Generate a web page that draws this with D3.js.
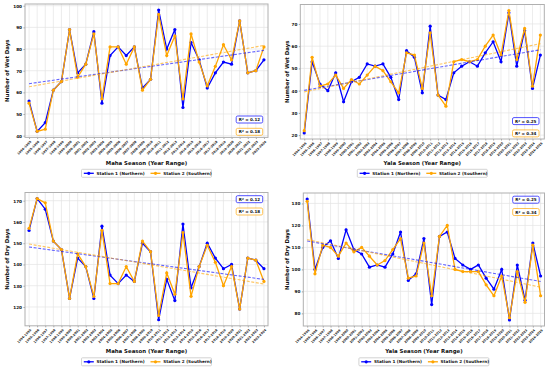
<!DOCTYPE html>
<html>
<head>
<meta charset="utf-8">
<script src="https://cdn.jsdelivr.net/npm/d3@7"></script>
<style>
body { margin: 0; background: #fff; }
svg { display: block; font-family: "DejaVu Sans", sans-serif; font-weight: bold; }
</style>
</head>
<body>
<svg id="chart"></svg>
<script>
var width = 550, height = 369;

// tick labels
var mahaYears = ["1994-1995","1995-1996","1996-1997","1997-1998","1998-1999","1999-2000","2000-2001","2001-2002","2002-2003","2003-2004",
    "2004-2005","2005-2006","2006-2007","2007-2008","2008-2009","2009-2010","2010-2011","2011-2012","2012-2013","2013-2014",
    "2014-2015","2015-2016","2016-2017","2017-2018","2018-2019","2019-2020","2020-2021","2021-2022","2022-2023","2023-2024"];
var yalaYears = ["1994-1995","1995-1996","1996-1997","1997-1998","1998-1999","1999-2000","2000-2001","2001-2002","2002-2003","2003-2004",
    "2004-2005","2005-2006","2006-2007","2007-2008","2008-2009","2009-2010","2010-2011","2011-2012","2012-2013","2013-2014",
    "2014-2015","2015-2016","2016-2017","2017-2018","2018-2019","2019-2020","2020-2021","2021-2022","2022-2023","2023-2024","2024-2025"];

// wet days
var mahaWetN = [56,42,46,61,65,89,69,73,88,55,77,81,77,81,62,66,98,80,89,53,83,75,62,69,74,73,93,69,70,75];
var mahaWetS = [55,42,43,61,65,89,67,73,87,57,81,81,73,81,61,66,96,77,86,57,87,74,63,72,82,75,93,69,70,81];
var yalaWetN = [21,53,43,40,48,35,44,46,52,51,52,46,36,58,55,39,69,38,36,48,51,53,51,57,62,53,75,51,67,41,56];
var yalaWetS = [22,55,42,43,47,41,45,43,47,51,49,44,39,57,56,41,66,38,33,53,54,53,54,60,65,56,76,54,68,42,65];

// dry days
var mahaDryN = [156,171,166,151,147,124,143,139,124,158,135,131,135,132,150,146,114,133,123,159,129,139,150,143,138,140,119,143,142,138];
var mahaDryS = [157,171,169,151,147,124,145,139,125,156,131,131,139,132,151,146,116,136,126,155,125,139,149,141,130,139,119,143,142,132];
var yalaDryN = [132,100,110,113,105,118,109,107,101,102,101,107,117,95,98,114,84,115,117,105,102,100,102,96,91,100,77,102,86,112,97];
var yalaDryS = [131,98,111,110,106,112,108,110,106,102,104,109,114,96,97,112,88,115,120,100,99,99,99,93,88,97,78,99,85,111,88];

// y tick values
var mahaWetTicks = [40,50,60,70,80,90,100];
var yalaWetTicks = [20,30,40,50,60,70];
var mahaDryTicks = [120,130,140,150,160,170];
var yalaDryTicks = [80,90,100,110,120,130];

// R² labels [north, south]
var mahaWetR2 = ["0.12","0.18"];
var yalaWetR2 = ["0.25","0.34"];
var mahaDryR2 = ["0.12","0.18"];
var yalaDryR2 = ["0.25","0.34"];

var seriesNames = ["Station 1 (Northern)", "Station 2 (Southern)"];
var colN = "#0000ff", colS = "#ffa500";

var panels = [
    {n: mahaWetN, s: mahaWetS, labels: mahaYears, ticks: mahaWetTicks, r2: mahaWetR2,
     xTitle: "Maha Season (Year Range)", yTitle: "Number of Wet Days",
     l: 25, r: 268, t: 4, b: 137.4, yTitleX: 7.5, r2Top: false, row: 0},
    {n: yalaWetN, s: yalaWetS, labels: yalaYears, ticks: yalaWetTicks, r2: yalaWetR2,
     xTitle: "Yala Season (Year Range)", yTitle: "Number of Wet Days",
     l: 300.3, r: 544.3, t: 4.5, b: 139, yTitleX: 287, r2Top: false, row: 0},
    {n: mahaDryN, s: mahaDryS, labels: mahaYears, ticks: mahaDryTicks, r2: mahaDryR2,
     xTitle: "Maha Season (Year Range)", yTitle: "Number of Dry Days",
     l: 25, r: 268, t: 192.5, b: 325.8, yTitleX: 7.5, r2Top: true, row: 1},
    {n: yalaDryN, s: yalaDryS, labels: yalaYears, ticks: yalaDryTicks, r2: yalaDryR2,
     xTitle: "Yala Season (Year Range)", yTitle: "Number of Dry Days",
     l: 303.3, r: 544.5, t: 193, b: 326, yTitleX: 287, r2Top: true, row: 1}
];

const svg = d3.select("svg#chart")
    .attr("width", width)
    .attr("height", height);

panels.forEach(drawPanel);

function fitLine(vals){
    let n = vals.length;
    let mx = d3.mean(d3.range(n)), my = d3.mean(vals);
    let sxy = 0, sxx = 0;
    vals.forEach((v,i) => { sxy += (i-mx)*(v-my); sxx += (i-mx)*(i-mx); });
    let slope = sxy / sxx;
    return [[0, my - slope*mx], [n-1, my + slope*(n-1-mx)]];
}

function drawPanel(p){
    let g = svg.append("g");
    let n = p.n.length;

    let x = d3.scaleLinear()
        .domain([-0.5, n - 0.5])
        .range([p.l, p.r]);

    let lo = d3.min(p.n.concat(p.s)), hi = d3.max(p.n.concat(p.s));
    let pad = (hi - lo) * 0.05;
    let y = d3.scaleLinear()
        .domain([lo - pad, hi + pad])
        .range([p.b, p.t]);

    // grid
    g.append("g").selectAll("line").data(d3.range(n)).enter().append("line")
        .attr("x1", d => x(d)).attr("x2", d => x(d))
        .attr("y1", p.t).attr("y2", p.b)
        .style("stroke", "#e4e4e4").style("stroke-width", 0.7);
    g.append("g").selectAll("line").data(p.ticks).enter().append("line")
        .attr("x1", p.l).attr("x2", p.r)
        .attr("y1", d => y(d)).attr("y2", d => y(d))
        .style("stroke", "#e4e4e4").style("stroke-width", 0.7);

    // y axis
    let yAxis = g.append("g")
        .attr("transform", "translate(" + p.l + ",0)")
        .call(d3.axisLeft(y).tickValues(p.ticks).tickSize(1.5).tickPadding(1.5));
    yAxis.select(".domain").remove();
    yAxis.selectAll("line").style("stroke", "#444").style("stroke-width", 0.5);
    yAxis.selectAll("text").style("font-size", "4.2px").style("font-family", "DejaVu Sans").style("font-weight", "bold").attr("fill", "#111");

    // x axis
    let xAxis = g.append("g")
        .attr("transform", "translate(0," + p.b + ")")
        .call(d3.axisBottom(x).tickValues(d3.range(n)).tickFormat(i => p.labels[i]).tickSize(1.5));
    xAxis.select(".domain").remove();
    xAxis.selectAll("line").style("stroke", "#444").style("stroke-width", 0.5);
    xAxis.selectAll("text")
        .style("font-size", "3.1px").style("font-family", "DejaVu Sans").style("font-weight", "bold").attr("fill", "#111")
        .attr("text-anchor", "end")
        .attr("y", 0).attr("dy", 0)
        .attr("transform", "translate(2,4.5) rotate(-45)");

    // data lines
    let line = d3.line().x((d,i) => x(i)).y(d => y(d));
    [[p.n, colN], [p.s, colS]].forEach(sr => {
        g.append("path").datum(sr[0])
            .attr("d", line)
            .style("fill", "none").style("stroke", sr[1]).style("stroke-width", 1.3);
        g.append("g").selectAll("circle").data(sr[0]).enter().append("circle")
            .attr("cx", (d,i) => x(i)).attr("cy", d => y(d)).attr("r", 1.6)
            .style("fill", sr[1]);
    });

    // trend lines
    [[p.n, colN], [p.s, colS]].forEach(sr => {
        let f = fitLine(sr[0]);
        g.append("line")
            .attr("x1", x(f[0][0])).attr("y1", y(f[0][1]))
            .attr("x2", x(f[1][0])).attr("y2", y(f[1][1]))
            .style("stroke", sr[1]).style("stroke-width", 1.1)
            .style("stroke-dasharray", "3,1.6").style("opacity", 0.6);
    });

    // frame
    g.append("rect")
        .attr("x", p.l).attr("y", p.t)
        .attr("width", p.r - p.l).attr("height", p.b - p.t)
        .style("fill", "none").style("stroke", "#b0b0b0").style("stroke-width", 1);

    // R² boxes
    let boxTop = p.r2Top ? p.t + 3.2 : p.b - 21.4;
    [[p.r2[0], colN], [p.r2[1], colS]].forEach((r, k) => {
        let bx = g.append("g").attr("transform", "translate(" + (p.r - 5.3) + "," + (boxTop + k*12.3) + ")");
        bx.append("rect")
            .attr("x", -26.5).attr("y", 0).attr("width", 26.5).attr("height", 7).attr("rx", 1.5)
            .style("fill", "#fff").style("stroke", r[1]).style("stroke-width", 0.9).style("opacity", 0.75);
        bx.append("text")
            .attr("x", -13.25).attr("y", 5)
            .attr("text-anchor", "middle")
            .style("font-size", "4.1px").attr("fill", "#111")
            .text("R² = " + r[0]);
    });

    // axis titles
    g.append("text")
        .attr("x", (p.l + p.r) / 2).attr("y", p.row ? 353 : 164.6)
        .attr("text-anchor", "middle")
        .style("font-size", "5.4px").attr("fill", "#111")
        .text(p.xTitle);
    g.append("text")
        .attr("transform", "translate(" + (p.yTitleX + 1.8) + "," + ((p.t + p.b) / 2) + ") rotate(-90)")
        .attr("text-anchor", "middle")
        .style("font-size", "5.4px").attr("fill", "#111")
        .text(p.yTitle);

    // legend
    let lgTop = p.row ? 357.8 : 169.3;
    let cx = (p.l + p.r) / 2;
    let lg = g.append("g").attr("transform", "translate(" + (cx - 65) + "," + lgTop + ")");
    lg.append("rect")
        .attr("width", 130).attr("height", 8).attr("rx", 1)
        .style("fill", "#fff").style("stroke", "#c8c8c8").style("stroke-width", 0.8);
    [colN, colS].forEach((c, k) => {
        let ox = k * 66.7;
        lg.append("line")
            .attr("x1", ox + 2.3).attr("x2", ox + 12.3).attr("y1", 4).attr("y2", 4)
            .style("stroke", c).style("stroke-width", 1.3);
        lg.append("circle").attr("cx", ox + 7.3).attr("cy", 4).attr("r", 1.6).style("fill", c);
        lg.append("text")
            .attr("x", ox + 15).attr("y", 5.5)
            .style("font-size", "4.2px").attr("fill", "#111")
            .text(seriesNames[k]);
    });
}
</script>
</body>
</html>
